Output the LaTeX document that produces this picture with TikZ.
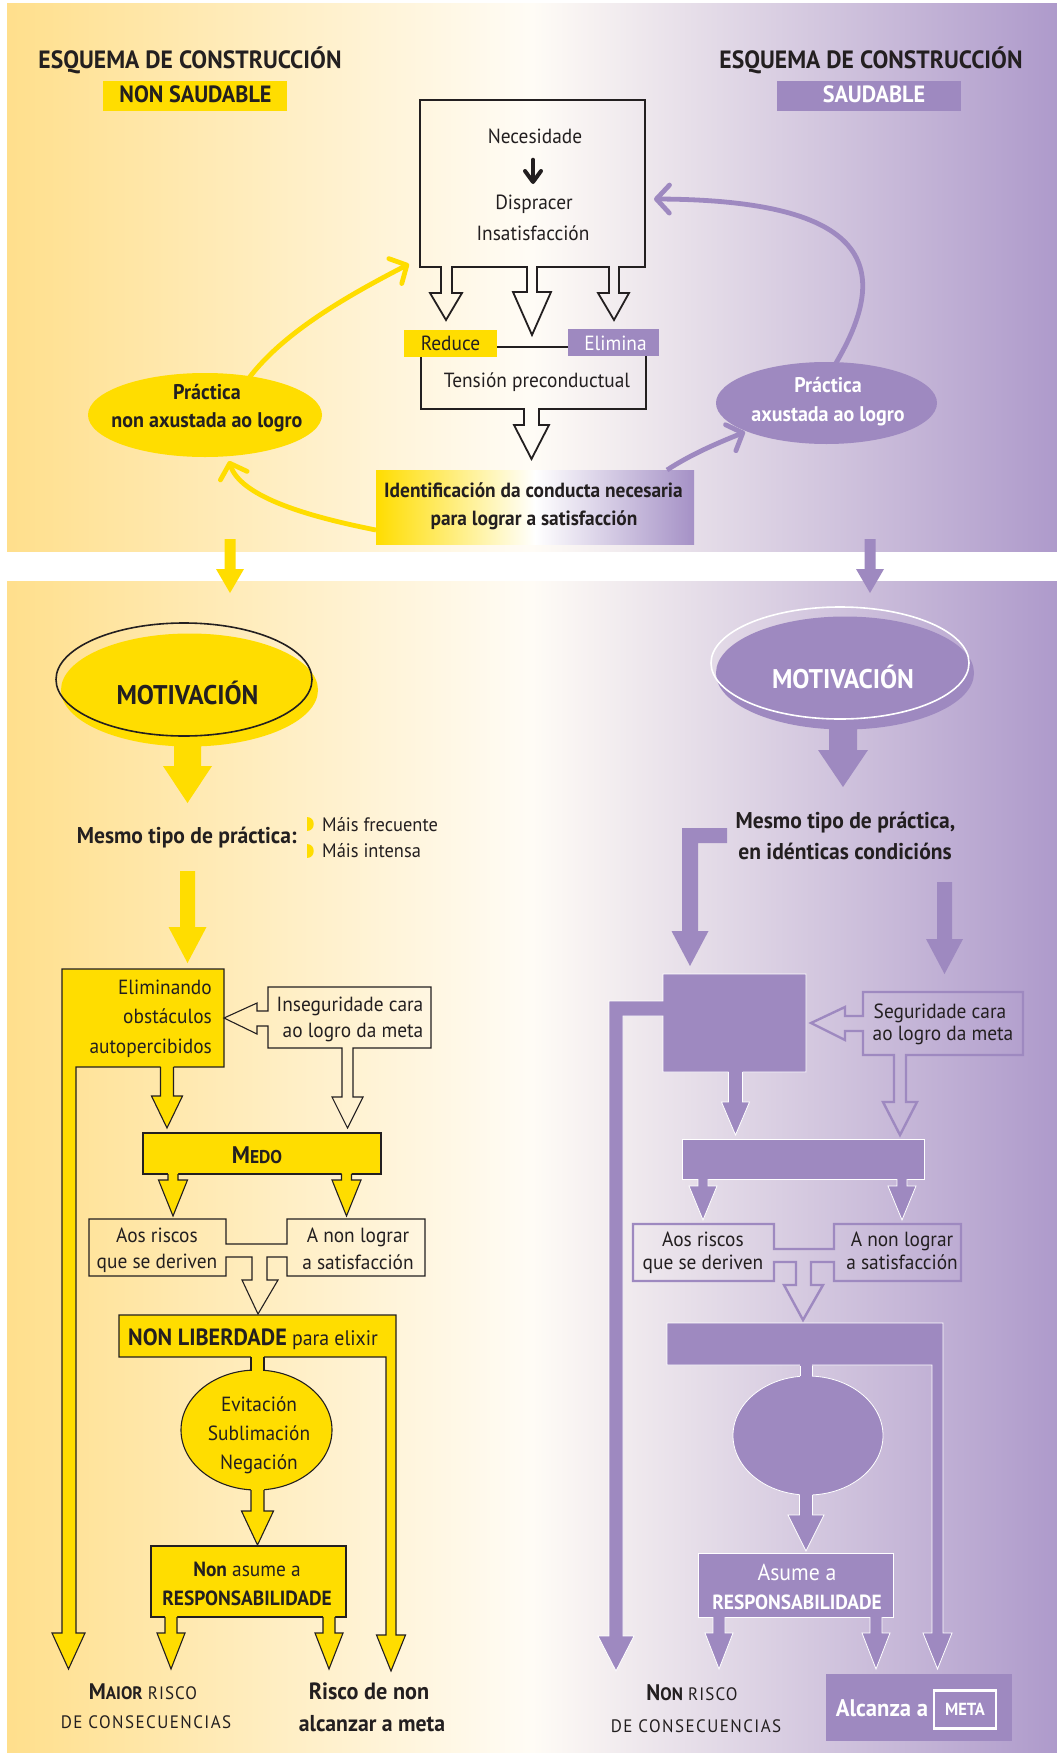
\documentclass[tikz,border=0pt]{standalone}
\usepackage{fontspec}
\setmainfont{PT Sans}[FakeStretch=0.945]
\usetikzlibrary{arrows.meta,shapes.geometric}
\definecolor{yel}{RGB}{255,221,0}
\definecolor{pur}{RGB}{158,137,192}
\definecolor{ink}{RGB}{35,31,32}
\definecolor{bgL}{RGB}{255,223,140}
\definecolor{bgM}{RGB}{255,252,246}
\definecolor{bgR}{RGB}{174,154,203}
\definecolor{idR}{RGB}{165,145,198}
\newcommand\fr{\fontsize{20.5}{24}\selectfont}
\newcommand\fb{\fontsize{20.5}{24}\selectfont\bfseries}
\newcommand\fe{\fontsize{21.2}{24}\selectfont\bfseries}
% block arrow pointing down: #1 fill, #2 stroke style, #3 x, #4 top, #5 head, #6 tip, #7 half shaft, #8 half head
\newcommand\blockdown[8]{%
  \fill[#1] (#3-#7,#4-1.5) -- (#3-#7,#5) -- (#3-#8,#5) -- (#3,#6) -- (#3+#8,#5) -- (#3+#7,#5) -- (#3+#7,#4-1.5) -- cycle;
  \draw[#2] (#3-#7,#4) -- (#3-#7,#5) -- (#3-#8,#5) -- (#3,#6) -- (#3+#8,#5) -- (#3+#7,#5) -- (#3+#7,#4);}
\begin{document}
\begin{tikzpicture}[x=1pt,y=-1pt,line join=miter,
  t/.style={inner sep=0pt,anchor=base,text=ink,font=\fr},
  tb/.style={t,font=\fb},
  tw/.style={t,text=white},
  twb/.style={tb,text=white},
  ybox/.style={draw=ink,fill=yel,line width=1.1pt},
  pbox/.style={draw=white,fill=pur,line width=0.8pt},
  pline/.style={draw=pur,line width=2.4pt},
  kline/.style={draw=ink,line width=1.1pt},
  wline/.style={draw=white,line width=0.8pt},
  blk/.style={inner sep=0pt,outer sep=0pt},
  bgshade/.style={left color=bgL,right color=bgR,middle color=bgM},
  curvey/.style={yel,line width=4.8pt,-{Straight Barb[length=13pt,width=28pt,round]}},
  curvep/.style={pur,line width=4.8pt,-{Straight Barb[length=13pt,width=28pt,round]}}]
\useasboundingbox (0,0) rectangle (1057,1753);
\fill[white] (0,0) rectangle (1057,1753);
% backgrounds
\fill[bgshade] (7,4) rectangle (1057,551);
\fill[bgshade] (7,581) rectangle (1057,1753);

% titles
\node[tb,font=\fontsize{25}{28}\selectfont\bfseries] (ttl) at (190,68) {ESQUEMA DE CONSTRUCCIÓN};
\node[tb,font=\fontsize{25}{28}\selectfont\bfseries] (ttr) at (871,68) {ESQUEMA DE CONSTRUCCIÓN};
\node[blk,fill=yel,minimum width=183.5,minimum height=30] (nsbox) at (194.75,96) {};
\node[tb,font=\fontsize{23.5}{28}\selectfont\bfseries] (nst) at (195.5,102.6) {NON SAUDABLE};
\node[blk,fill=pur,minimum width=184,minimum height=30] (sbox) at (869,96) {};
\node[twb,font=\fontsize{23.5}{28}\selectfont\bfseries] (st) at (874,102.6) {SAUDABLE};

% top box with three hollow arrows
\draw[ink,line width=1.8pt] (420,100) -- (645,100) -- (645,267) -- (619,267) -- (619,293) -- (629,293) -- (614,320) -- (598,293) -- (609,293) -- (609,267) -- (537,267) -- (537,292) -- (551,292) -- (532,335) -- (513,292) -- (527,292) -- (527,267) -- (452,267) -- (452,293) -- (462,293) -- (446,320) -- (430,293) -- (441,293) -- (441,267) -- (420,267) -- cycle;
\node[t] (nec) at (535,143) {Necesidade};
\draw[ink,line width=4.6pt,line cap=round] (533,160) -- (533,179);
\draw[ink,line width=4pt,line cap=round,line join=round] (525,171) -- (533,182) -- (541,171);
\node[t] (disp) at (534,209) {Dispracer};
\node[t] (insat) at (533,240) {Insatisfacción};

% tension box
\draw[ink,line width=1.8pt] (421,347) -- (646,347) -- (646,409) -- (539,409) -- (539,425) -- (549,425) -- (531.5,459) -- (514,425) -- (524,425) -- (524,409) -- (421,409) -- cycle;
\node[blk,fill=yel,minimum width=93,minimum height=27] (red) at (450.5,343.5) {};
\node[t] (redt) at (450.5,350) {Reduce};
\node[blk,fill=pur,minimum width=91,minimum height=27] (eli) at (613.5,342.5) {};
\node[tw] (elit) at (615.5,350) {Elimina};
\node[t] (tens) at (537,387) {Tensión preconductual};

% identification box
\node[blk,left color=yel,right color=idR,middle color=white,minimum width=318,minimum height=74] (iden) at (535,507) {};
\node[tb] (id1) at (533.5,497.5) {Identificación da conducta necesaria};
\node[tb] (id2) at (534,525) {para lograr a satisfacción};

% practice ellipses
\node[blk,ellipse,fill=yel,minimum width=234,minimum height=84] (pnon) at (205,415) {};
\node[tb,font=\fe] (pn1) at (207,399) {Práctica};
\node[tb,font=\fe] (pn2) at (207,427) {non axustada ao logro};
\node[blk,ellipse,fill=pur,minimum width=221,minimum height=82] (pax) at (826.5,403) {};
\node[twb,font=\fe] (pa1) at (828,392) {Práctica};
\node[twb,font=\fe] (pa2) at (828,421) {axustada ao logro};

% curved connectors
\coordinate (y1a) at (249,378); \coordinate (y1b) at (409,264);
\coordinate (y2a) at (376,530); \coordinate (y2b) at (229,461);
\coordinate (p1a) at (667,470); \coordinate (p1b) at (745,432);
\coordinate (p2a) at (836,363); \coordinate (p2b) at (654,199);
\draw[curvey] (y1a) .. controls (285,330) and (355,292) .. (y1b);
\draw[curvey] (y2a) .. controls (300,515) and (240,495) .. (y2b);
\draw[curvep] (p1a) .. controls (690,455) and (715,444) .. (p1b);
\draw[curvep] (p2a) .. controls (892,268) and (872,200) .. (p2b);

% arrows across the gap
\fill[yel] (224.5,539) -- (224.5,569) -- (216,569) -- (230,593) -- (244,569) -- (235.5,569) -- (235.5,539) -- cycle;
\fill[pur] (864.5,539) -- (864.5,569) -- (856,569) -- (870,593) -- (884,569) -- (875.5,569) -- (875.5,539) -- cycle;

% ===== bottom left =====
\node[blk,ellipse,fill=yel,minimum width=257,minimum height=113] (motf) at (189.5,690) {};
\node[blk,ellipse,draw=ink,line width=1.6pt,minimum width=256,minimum height=113] (moto) at (184,679.5) {};
\node[tb,font=\fontsize{27}{30}\selectfont\bfseries] (mott) at (187.5,704) {MOTIVACIÓN};
\fill[yel] (174,745) -- (174,766) -- (163,766) -- (187.5,803) -- (212,766) -- (201,766) -- (201,745) -- cycle;
\node[tb,anchor=base east,font=\fontsize{22.8}{26}\selectfont\bfseries] (mtl) at (297,843) {Mesmo tipo de práctica:};
\fill[yel] (307,817) .. controls (316,817) and (316,831) .. (307,831) -- cycle;
\fill[yel] (307,844) .. controls (316,844) and (316,858) .. (307,858) -- cycle;
\node[t,anchor=base west,font=\fontsize{19.5}{24}\selectfont] (mf) at (322,831) {Máis frecuente};
\node[t,anchor=base west,font=\fontsize{19.5}{24}\selectfont] (mi) at (322,857) {Máis intensa};
\fill[yel] (180,871) -- (180,927) -- (168.5,927) -- (187.5,963) -- (206.5,927) -- (195,927) -- (195,871) -- cycle;

% Eliminando box with long left strip
\draw[ybox] (62,969) -- (224,969) -- (224,1067) -- (76,1067) -- (76,1633) -- (85,1633) -- (68.5,1669) -- (52,1633) -- (62,1633) -- cycle;
\node[t,anchor=base east] (el1) at (212,994) {Eliminando};
\node[t,anchor=base east] (el2) at (212,1023) {obstáculos};
\node[t,anchor=base east] (el3) at (212,1053) {autopercibidos};
\blockdown{yel}{kline}{167}{1067}{1096}{1128}{6.5}{15.5}
% Inseguridade box
\draw[kline] (268,987) -- (431,987) -- (431,1048) -- (353,1048) -- (353,1097) -- (363,1097) -- (347.5,1128) -- (332,1097) -- (342,1097) -- (342,1048) -- (268,1048) -- (268,1026) -- (257,1026) -- (257,1034) -- (224,1018) -- (257,1003) -- (257,1011) -- (268,1011) -- cycle;
\node[t] (in1) at (350,1011) {Inseguridade cara};
\node[t] (in2) at (353,1037) {ao logro da meta};
% MEDO
\node[blk,ybox,minimum width=238,minimum height=41] (medo) at (262,1153.5) {};
\node[tb] (medot) at (257,1163) {\fontsize{24}{24}\selectfont M\fontsize{18.5}{24}\selectfont EDO};
\blockdown{yel}{kline}{173}{1174}{1180}{1216}{5}{14.5}
\blockdown{yel}{kline}{346.5}{1174}{1180}{1216}{5}{14.5}
% Aos riscos / A non lograr
\draw[kline] (89,1219) -- (226,1219) -- (226,1244) -- (287,1244) -- (287,1219) -- (425,1219) -- (425,1276) -- (287,1276) -- (287,1257) -- (267,1257) -- (267,1280) -- (278,1280) -- (258,1314) -- (242,1280) -- (252,1280) -- (252,1257) -- (226,1257) -- (226,1276) -- (89,1276) -- cycle;
\node[t] (ar1) at (157,1242) {Aos riscos};
\node[t] (ar2) at (157,1268) {que se deriven};
\node[t] (an1) at (358,1242) {A non lograr};
\node[t] (an2) at (358,1269) {a satisfacción};
% NON LIBERDADE with right strip
\draw[ybox] (119,1315) -- (396,1315) -- (396,1635) -- (405.5,1635) -- (391,1671) -- (376.5,1635) -- (386,1635) -- (386,1357) -- (119,1357) -- cycle;
\node[t,anchor=base west] (nlt) at (128,1345) {{\fontsize{23.5}{26}\selectfont\bfseries NON LIBERDADE} {\fontsize{21}{26}\selectfont para elixir}};
% defence ellipse
\node[blk,ellipse,ybox,minimum width=151,minimum height=120] (def) at (256.5,1430) {};
\fill[yel] (251,1356) rectangle (264,1372);
\draw[kline] (251,1357) -- (251,1370.5) (264,1357) -- (264,1370.5);
\node[t] (ev) at (259,1411) {Evitación};
\node[t] (sub) at (259,1440) {Sublimación};
\node[t] (neg) at (259,1469) {Negación};
\blockdown{yel}{kline}{257.5}{1490}{1511}{1545}{6.5}{16}
% Non asume
\node[blk,ybox,minimum width=195,minimum height=71] (nonas) at (248.5,1581.5) {};
\node[t] (na1) at (247,1576) {{\bfseries Non} asume a};
\node[tb] (na2) at (247,1605.5) {RESPONSABILIDADE};
\blockdown{yel}{kline}{171}{1617}{1633}{1669}{6}{14}
\blockdown{yel}{kline}{329}{1617}{1633}{1669}{6}{14}
% outcomes left
\node[t] (mr1) at (143,1699) {{\fontsize{22.5}{26}\selectfont\bfseries M}{\fontsize{18}{26}\selectfont\bfseries AIOR} {\fontsize{18}{26}\selectfont\addfontfeature{LetterSpace=6}RISCO}};
\node[t] (mr2) at (146,1728) {\fontsize{18}{26}\selectfont\addfontfeature{LetterSpace=8}DE CONSECUENCIAS};
\node[tb,font=\fontsize{23.5}{26}\selectfont\bfseries] (rn1) at (369,1699) {Risco de non};
\node[tb,font=\fontsize{23}{26}\selectfont\bfseries] (rn2) at (372,1731) {alcanzar a meta};

% ===== bottom right =====
\node[blk,ellipse,fill=pur,minimum width=258,minimum height=113] (mpf) at (845,673) {};
\node[blk,ellipse,draw=white,line width=1.6pt,minimum width=258,minimum height=112] (mpo) at (840,663) {};
\node[twb,font=\fontsize{27}{30}\selectfont\bfseries] (mpt) at (843,688) {MOTIVACIÓN};
\fill[pur] (829,728) -- (829,750) -- (818,750) -- (843,787) -- (868,750) -- (857,750) -- (857,728) -- cycle;
\node[tb,font=\fontsize{22.8}{26}\selectfont\bfseries] (mr1t) at (845.5,828) {Mesmo tipo de práctica,};
\node[tb,font=\fontsize{22.8}{26}\selectfont\bfseries] (mr2t) at (845,859) {en idénticas condicións};
\fill[pur] (727,828) -- (682,828) -- (682,931) -- (671.5,931) -- (690,966) -- (708.5,931) -- (698,931) -- (698,843) -- (727,843) -- cycle;
\fill[pur] (937,882) -- (937,939) -- (926,939) -- (944.5,974) -- (963,939) -- (952,939) -- (952,882) -- cycle;
% square box with long left strip
\draw[pbox] (663,974) -- (806,974) -- (806,1072) -- (663,1072) -- (663,1016) -- (623,1016) -- (623,1636) -- (634,1636) -- (616,1671) -- (598,1636) -- (609,1636) -- (609,1001) -- (663,1001) -- cycle;
% Seguridade box
\draw[pline] (863,992) -- (1023,992) -- (1023,1055) -- (906,1055) -- (906,1102) -- (917,1102) -- (900,1135) -- (883,1102) -- (894,1102) -- (894,1055) -- (863,1055) -- (863,1031) -- (845,1031) -- (845,1040) -- (811,1023) -- (845,1007) -- (845,1016) -- (863,1016) -- cycle;
\node[t] (sg1) at (940,1018) {Seguridade cara};
\node[t] (sg2) at (943,1040) {ao logro da meta};
\blockdown{pur}{wline}{735.5}{1072}{1102}{1135}{7}{14}
% wide box
\node[blk,pbox,minimum width=242,minimum height=40] (w1) at (803,1159) {};
\blockdown{pur}{wline}{703}{1179}{1186}{1220}{5}{14}
\blockdown{pur}{wline}{902}{1179}{1186}{1220}{5}{14}
% Aos riscos / A non lograr (purple)
\draw[pline] (633,1224) -- (774,1224) -- (774,1249) -- (834,1249) -- (834,1224) -- (961,1224) -- (961,1281) -- (834,1281) -- (834,1262) -- (811,1262) -- (811,1285) -- (823,1285) -- (803,1320) -- (784,1285) -- (796,1285) -- (796,1262) -- (774,1262) -- (774,1281) -- (633,1281) -- cycle;
\node[t] (par1) at (703,1246) {Aos riscos};
\node[t] (par2) at (703,1269) {que se deriven};
\node[t] (pan1) at (902,1246) {A non lograr};
\node[t] (pan2) at (902,1269) {a satisfacción};
% wide box with right strip
\draw[pbox] (667,1323) -- (943,1323) -- (943,1633) -- (952,1633) -- (937.5,1669) -- (923,1633) -- (932,1633) -- (932,1365) -- (667,1365) -- cycle;
\node[blk,ellipse,pbox,minimum width=150,minimum height=119] (pdef) at (808,1435.5) {};
\fill[pur] (800,1364) rectangle (812,1377);
\draw[wline] (800,1365.5) -- (800,1376) (812,1365.5) -- (812,1376);
\blockdown{pur}{wline}{806}{1495}{1515}{1551}{6.5}{18}
% Asume
\node[blk,pbox,minimum width=195,minimum height=64] (asu) at (795.5,1585) {};
\node[tw,font=\fontsize{23}{26}\selectfont] (as1) at (797,1580.5) {Asume a};
\node[twb] (as2) at (797,1609) {RESPONSABILIDADE};
\blockdown{pur}{wline}{719}{1617}{1633}{1669}{6}{14}
\blockdown{pur}{wline}{876}{1617}{1633}{1669}{6}{14}
% outcomes right
\node[t] (nr1) at (692,1700) {{\fontsize{22.5}{26}\selectfont\bfseries N}{\fontsize{18}{26}\selectfont\bfseries ON} {\fontsize{18}{26}\selectfont\addfontfeature{LetterSpace=6}RISCO}};
\node[t] (nr2) at (696,1732) {\fontsize{18}{26}\selectfont\addfontfeature{LetterSpace=8}DE CONSECUENCIAS};
\node[blk,fill=pur,minimum width=186,minimum height=67] (alc) at (919,1707.5) {};
\node[twb,font=\fontsize{24}{26}\selectfont\bfseries] (alct) at (882,1716) {Alcanza a};
\node[blk,draw=white,line width=2.8pt,minimum width=62,minimum height=37.5] (meta) at (965,1709.5) {};
\node[twb,font=\fontsize{17.5}{20}\selectfont\bfseries] (metat) at (965,1715) {META};
\end{tikzpicture}
\end{document}
